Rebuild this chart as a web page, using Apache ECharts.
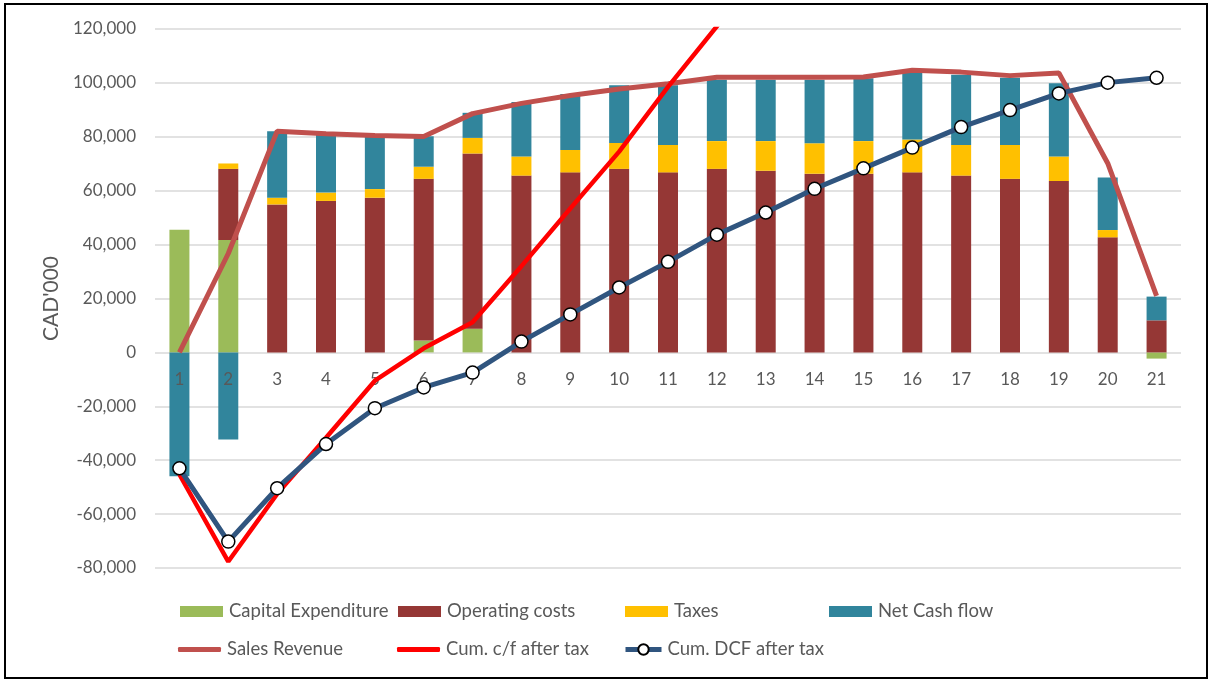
<!DOCTYPE html>
<html>
<head>
<meta charset="utf-8">
<script src="https://cdn.jsdelivr.net/npm/echarts@6/dist/echarts.min.js"></script>
<style>
html,body{margin:0;padding:0;background:#fff;}
#frame{position:absolute;left:4px;top:3px;width:1200px;height:672px;border:2px solid #000;}
#chart{position:absolute;left:0;top:0;width:1208px;height:681px;}
</style>
</head>
<body>
<div id="frame"></div>
<div id="chart"></div>
<script>
var years = ['1','2','3','4','5','6','7','8','9','10','11','12','13','14','15','16','17','18','19','20','21'];
var capex = [45500, 41700, 0, 0, 0, 4400, 8800, 0, 0, 0, 0, 0, 0, 0, 0, 0, 0, 0, 0, 0, -2300];
var opex = [0, 26400, 54900, 56200, 57400, 60000, 65000, 65600, 66800, 68100, 66800, 68100, 67400, 66300, 66300, 66800, 65600, 64400, 63600, 42700, 11900];
var taxes = [0, 2000, 2500, 3100, 3200, 4500, 5800, 7100, 8300, 9600, 10200, 10300, 11000, 11300, 12100, 12200, 11400, 12600, 9100, 2700, 0];
var netCash = [-46000, -32300, 24700, 21700, 19900, 11300, 9300, 20200, 20800, 21400, 22100, 22800, 22800, 23600, 23300, 24700, 26000, 24900, 27200, 19500, 8800];
var revenue = [0, 36700, 82100, 81100, 80500, 80100, 88600, 92400, 95300, 97700, 99700, 102100, 102100, 102100, 102200, 104700, 104000, 102700, 103700, 70200, 21000];
var cumCF = [-45300, -77600, -52500, -31700, -10500, 1500, 11200, 32000, 53400, 74500, 98500, 121000, 143800, 167400, 190700, 215400, 241400, 266300, 293500, 313000, 321800];
var cumDCF = [-43000, -70200, -50400, -34000, -20700, -13000, -7500, 4000, 14100, 24100, 33600, 43700, 51900, 60700, 68300, 76000, 83600, 89900, 96100, 100100, 101900];

var FONT = 'Lato';
var TXT = '#595959';
var chart = echarts.init(document.getElementById('chart'), null, {renderer:'canvas'});

function leg(name, left, top, icon, h, w) {
  var o = {
    data: [name], left: left, top: top, padding: 0,
    itemWidth: w || 43, itemHeight: h || 11, itemGap: 0,
    textStyle: {fontFamily: FONT, fontSize: 18.5, color: TXT, padding: [0,0,0,1]},
    selectedMode: false
  };
  if (icon) o.icon = icon;
  return o;
}

var dcfLeg = leg('Cum. DCF after tax', 623, 640, null, 13, 36);
dcfLeg.lineStyle = {width: 5};

chart.setOption({
  animation: false,
  backgroundColor: 'transparent',
  grid: {left: 155, right: 27, top: 29, bottom: 113, containLabel: false},
  legend: [
    leg('Capital Expenditure', 180, 602, 'rect'),
    leg('Operating costs', 398, 602, 'rect'),
    leg('Taxes', 625, 602, 'rect'),
    leg('Net Cash flow', 829, 602, 'rect'),
    leg('Sales Revenue', 178, 640, 'roundRect', 5),
    leg('Cum. c/f after tax', 397, 640, 'roundRect', 5),
    dcfLeg
  ],
  xAxis: {
    type: 'category', data: years,
    offset: -215.6, z: 2,
    axisLine: {show: false, onZero: false},
    axisTick: {show: false},
    axisLabel: {fontFamily: FONT, fontSize: 17, color: TXT, margin: 19},
    splitLine: {show: false}
  },
  yAxis: {
    type: 'value', min: -80000, max: 120000, interval: 20000,
    name: "CAD'000", nameLocation: 'middle', nameGap: 93, nameRotate: 90,
    nameTextStyle: {fontFamily: FONT, fontSize: 21, color: TXT},
    axisLine: {show: false}, axisTick: {show: false},
    axisLabel: {fontFamily: FONT, fontSize: 17, color: TXT, margin: 19,
      formatter: function(v){ return v.toLocaleString('en-US'); }},
    splitLine: {lineStyle: {color: '#D9D9D9', width: 1.5}}
  },
  series: [
    {name: 'Capital Expenditure', type: 'bar', stack: 'cf', data: capex, barWidth: 20, z: 1,
      itemStyle: {color: '#9BBB59'}},
    {name: 'Operating costs', type: 'bar', stack: 'cf', data: opex, barWidth: 20, z: 1,
      itemStyle: {color: '#953735'}},
    {name: 'Taxes', type: 'bar', stack: 'cf', data: taxes, barWidth: 20, z: 1,
      itemStyle: {color: '#FFC000'}},
    {name: 'Net Cash flow', type: 'bar', stack: 'cf', data: netCash, barWidth: 20, z: 1,
      itemStyle: {color: '#31859C'}},
    {name: 'Sales Revenue', type: 'line', data: revenue, symbol: 'none', z: 3,
      lineStyle: {color: '#C0504D', width: 5}, itemStyle: {color: '#C0504D'}},
    {name: 'Cum. c/f after tax', type: 'line', data: cumCF, symbol: 'none', z: 4, clip: true,
      lineStyle: {color: '#FF0000', width: 4.5}, itemStyle: {color: '#FF0000'}},
    {name: 'Cum. DCF after tax', type: 'line', data: cumDCF, symbol: 'circle', symbolSize: 13, z: 5,
      lineStyle: {color: '#30557F', width: 5},
      itemStyle: {color: '#FFFFFF', borderColor: '#000000', borderWidth: 1.5}}
  ]
});
</script>
</body>
</html>
